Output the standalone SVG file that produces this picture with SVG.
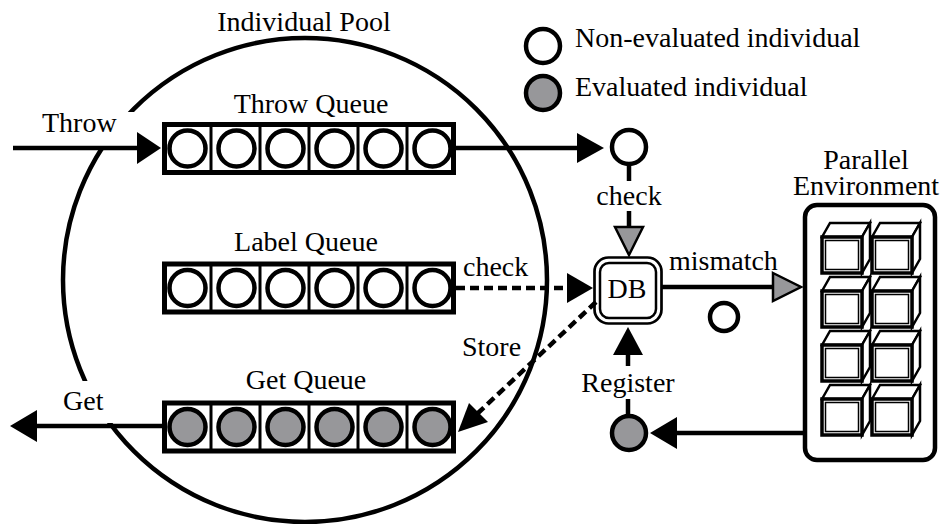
<svg xmlns="http://www.w3.org/2000/svg" xmlns:xlink="http://www.w3.org/1999/xlink" width="946" height="524" viewBox="0 0 946 524">
  <style>
    text { font-family: "Liberation Serif", "Times New Roman", Times, serif; font-size: 28px; fill: #000; }
    .mid { text-anchor: middle; }
    .line { fill: none; stroke: #000; stroke-width: 4.5; }
    .dash { fill: none; stroke: #000; stroke-width: 4.5; stroke-dasharray: 9 5; }
    .head { fill: #000; stroke: none; }
    .ghead { fill: #97979a; stroke: #000; stroke-width: 2.5; stroke-linejoin: miter; }
    .qframe { fill: #fff; stroke: #000; stroke-width: 5; }
    .qdiv { stroke: #000; stroke-width: 3; }
    .ind { fill: #fff; stroke: #000; stroke-width: 4.5; }
    .eval { fill: #97979a; stroke: #000; stroke-width: 4.5; }
    .face { fill: #fff; stroke: #000; stroke-width: 2.5; stroke-linejoin: miter; }
  </style>
  <defs>
    <!-- one queue of six slots, origin at the top-left of the frame -->
    <g id="queue-frame">
      <rect class="qframe" x="0" y="0" width="289" height="48"/>
      <line class="qdiv" x1="46.5" y1="0" x2="46.5" y2="48"/>
      <line class="qdiv" x1="95.5" y1="0" x2="95.5" y2="48"/>
      <line class="qdiv" x1="144.5" y1="0" x2="144.5" y2="48"/>
      <line class="qdiv" x1="193.5" y1="0" x2="193.5" y2="48"/>
      <line class="qdiv" x1="242.5" y1="0" x2="242.5" y2="48"/>
    </g>
    <!-- computing node drawn as a cube, origin at the front face top-left -->
    <g id="cube">
      <polygon class="face" points="0,0 8,-14 48,-14 40,0"/>
      <polygon class="face" points="40,0 48,-14 48,22 40,36"/>
      <rect x="0" y="0" width="40" height="36" fill="#fff" stroke="#000" stroke-width="3.5"/>
      <rect x="3.5" y="3.5" width="33" height="29" fill="none" stroke="#000" stroke-width="1.5"/>
    </g>
  </defs>

  <rect width="946" height="524" fill="#fff"/>

  <g font-family="'Liberation Serif', 'Times New Roman', Times, serif">
  <!-- individual pool -->
  <g id="individual-pool">
    <circle cx="305" cy="280" r="242" fill="none" stroke="#000" stroke-width="4.5"/>
    <rect x="30" y="112" width="106" height="34" fill="#fff"/>
    <rect x="50" y="381" width="65" height="42" fill="#fff"/>
    <text class="mid" x="304" y="31">Individual Pool</text>
  </g>

  <!-- legend -->
  <g id="legend">
    <circle class="ind" cx="543" cy="46" r="17"/>
    <text x="575" y="47">Non-evaluated individual</text>
    <circle class="eval" cx="543" cy="93" r="17"/>
    <text x="575" y="96">Evaluated individual</text>
  </g>

  <!-- throw queue -->
  <g id="throw-queue">
    <text class="mid" x="311" y="113">Throw Queue</text>
    <use xlink:href="#queue-frame" x="164.5" y="124.5"/>
    <circle class="ind" cx="187.5" cy="148.5" r="18"/>
    <circle class="ind" cx="236.5" cy="148.5" r="18"/>
    <circle class="ind" cx="285.5" cy="148.5" r="18"/>
    <circle class="ind" cx="334.5" cy="148.5" r="18"/>
    <circle class="ind" cx="383.5" cy="148.5" r="18"/>
    <circle class="ind" cx="432.5" cy="148.5" r="18"/>
  </g>

  <!-- label queue -->
  <g id="label-queue">
    <text class="mid" x="306" y="251">Label Queue</text>
    <use xlink:href="#queue-frame" x="164.5" y="264"/>
    <circle class="ind" cx="187.5" cy="288" r="18"/>
    <circle class="ind" cx="236.5" cy="288" r="18"/>
    <circle class="ind" cx="285.5" cy="288" r="18"/>
    <circle class="ind" cx="334.5" cy="288" r="18"/>
    <circle class="ind" cx="383.5" cy="288" r="18"/>
    <circle class="ind" cx="432.5" cy="288" r="18"/>
  </g>

  <!-- get queue -->
  <g id="get-queue">
    <text class="mid" x="306" y="389">Get Queue</text>
    <use xlink:href="#queue-frame" x="164.5" y="403"/>
    <circle class="eval" cx="187.5" cy="427" r="18"/>
    <circle class="eval" cx="236.5" cy="427" r="18"/>
    <circle class="eval" cx="285.5" cy="427" r="18"/>
    <circle class="eval" cx="334.5" cy="427" r="18"/>
    <circle class="eval" cx="383.5" cy="427" r="18"/>
    <circle class="eval" cx="432.5" cy="427" r="18"/>
  </g>

  <!-- database -->
  <g id="db">
    <rect x="594.5" y="257.5" width="67" height="66" rx="14" fill="#fff" stroke="#000" stroke-width="2.7"/>
    <rect x="600" y="263" width="56" height="55" rx="9" fill="none" stroke="#000" stroke-width="2.5"/>
    <text class="mid" x="627" y="298">DB</text>
  </g>

  <!-- parallel environment -->
  <g id="parallel-environment">
    <text class="mid" x="866" y="169">Parallel</text>
    <text class="mid" x="866" y="195">Environment</text>
    <rect x="805" y="205" width="130" height="255" rx="12" fill="#fff" stroke="#000" stroke-width="4.5"/>
    <use xlink:href="#cube" x="822" y="237"/>
    <use xlink:href="#cube" x="872" y="237"/>
    <use xlink:href="#cube" x="822" y="291"/>
    <use xlink:href="#cube" x="872" y="291"/>
    <use xlink:href="#cube" x="822" y="345"/>
    <use xlink:href="#cube" x="872" y="345"/>
    <use xlink:href="#cube" x="822" y="399"/>
    <use xlink:href="#cube" x="872" y="399"/>
  </g>

  <!-- individuals in transit -->
  <g id="checked-individual">
    <circle class="ind" cx="629" cy="147" r="17"/>
  </g>
  <g id="dispatched-individual">
    <circle class="ind" cx="724" cy="317" r="14"/>
  </g>
  <g id="returned-individual">
    <circle class="eval" cx="629" cy="433" r="17"/>
  </g>

  <!-- connectors -->
  <g id="connectors">
    <!-- throw into the pool -->
    <line class="line" x1="13" y1="148" x2="138" y2="148"/>
    <polygon class="head" points="137,132 161,148 137,164"/>
    <text x="42" y="132">Throw</text>

    <!-- throw queue out to the check -->
    <line class="line" x1="456" y1="148" x2="578" y2="148"/>
    <polygon class="head" points="577,133 604,148 577,163"/>

    <!-- check against the DB -->
    <line class="line" x1="629" y1="164" x2="629" y2="181"/>
    <line class="line" x1="629" y1="211" x2="629" y2="228"/>
    <polygon class="ghead" points="615,227 643,227 629,255"/>
    <text class="mid" x="629" y="205">check</text>

    <!-- label queue check -->
    <line class="dash" x1="456" y1="288" x2="568" y2="288"/>
    <polygon class="head" points="567,273 593,288 567,303"/>
    <text x="463" y="276">check</text>

    <!-- mismatch sent to the parallel environment -->
    <line class="line" x1="662" y1="287" x2="774" y2="287"/>
    <polygon class="ghead" points="773,273 801,287 773,301"/>
    <text x="669" y="270">mismatch</text>

    <!-- store into the get queue -->
    <line class="dash" x1="596" y1="302" x2="478" y2="413"/>
    <polygon class="head" points="458,432 469,403 488,422"/>
    <text x="462" y="356">Store</text>

    <!-- results back from the parallel environment -->
    <line class="line" x1="803" y1="433" x2="676" y2="433"/>
    <polygon class="head" points="677,417 650,433 677,449"/>

    <!-- register into the DB -->
    <line class="line" x1="628" y1="416" x2="628" y2="399"/>
    <line class="line" x1="628" y1="366" x2="628" y2="354"/>
    <polygon class="head" points="613,355 628,327 643,355"/>
    <text class="mid" x="628" y="392">Register</text>

    <!-- get out of the pool -->
    <line class="line" x1="162" y1="426" x2="36" y2="426"/>
    <polygon class="head" points="37,410 10,426 37,442"/>
    <text x="63" y="410">Get</text>
  </g>
  </g>
</svg>
